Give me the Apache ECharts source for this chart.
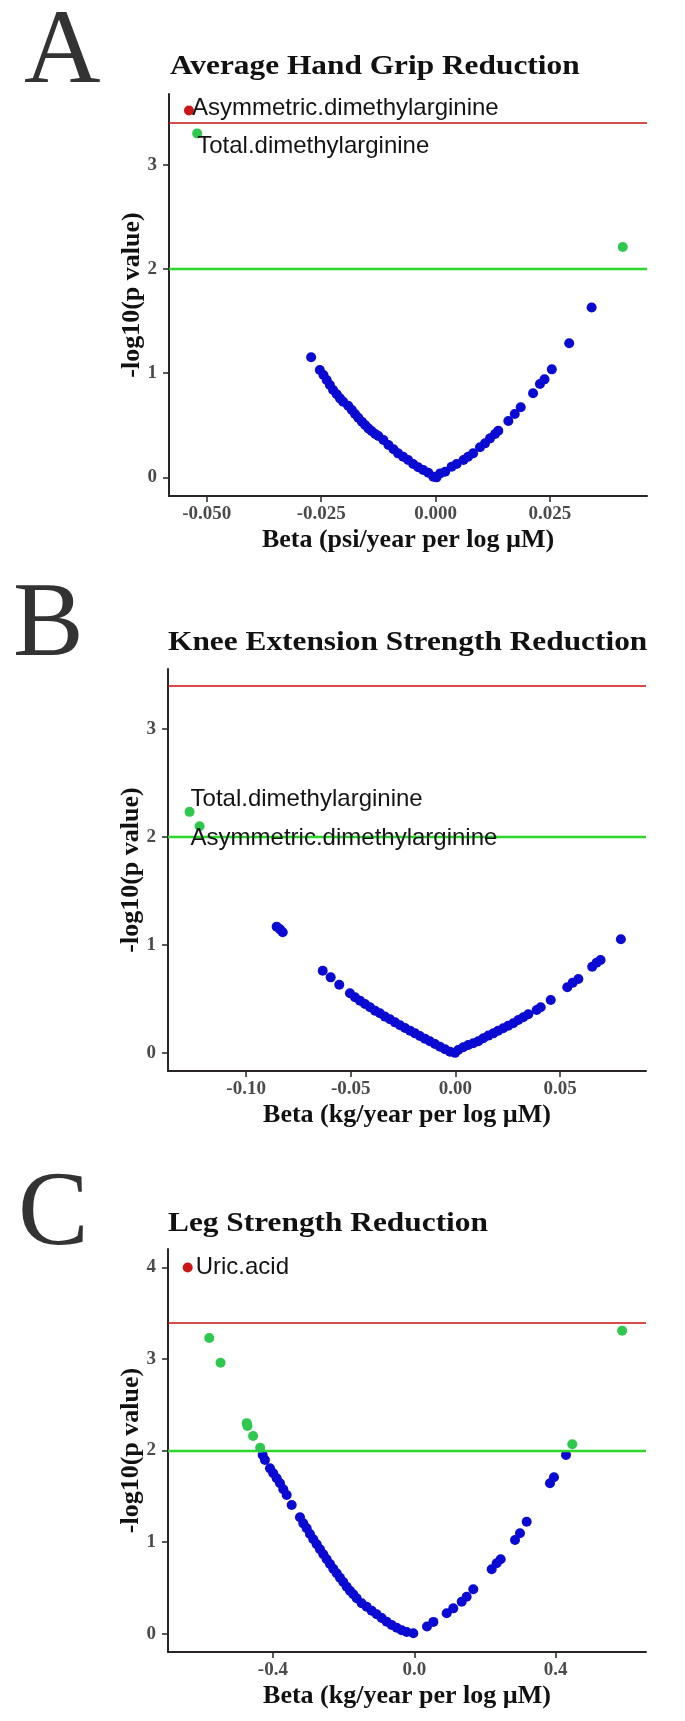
<!DOCTYPE html>
<html><head><meta charset="utf-8">
<script src="https://cdn.jsdelivr.net/npm/echarts@6/dist/echarts.min.js"></script>
<style>html,body{margin:0;padding:0;background:#fff}#c{width:685px;height:1721px}</style>
</head><body><div id="c"></div>
<script>
// ---------- text ----------
const panelLetters = ['A', 'B', 'C'];
const panelTitles = ['Average Hand Grip Reduction', 'Knee Extension Strength Reduction', 'Leg Strength Reduction'];
const xTitles = ['Beta (psi/year per log µM)', 'Beta (kg/year per log µM)', 'Beta (kg/year per log µM)'];
const yTitle = '-log10(p value)';

// ---------- ticks ----------
const xTicksA = [-0.05, -0.025, 0, 0.025];
const xTicksB = [-0.10, -0.05, 0, 0.05];
const xTicksC = [-0.4, 0, 0.4];
const yTicksA = [0, 1, 2, 3];
const yTicksB = [0, 1, 2, 3];
const yTicksC = [0, 1, 2, 3, 4];

// ---------- thresholds (-log10 p) ----------
const thresholdBonferroni = 3.4;
const thresholdNominal = 2;

// ---------- Panel A: Average Hand Grip Reduction ----------
const blueA = [
  [-0.0272,1.152],[-0.0253,1.030],[-0.0245,0.982],[-0.0238,0.934],[-0.0231,0.886],[-0.0224,0.838],
  [-0.0216,0.797],[-0.0209,0.758],[-0.0202,0.726],[-0.0191,0.687],[-0.0183,0.646],[-0.0176,0.607],
  [-0.0169,0.572],[-0.0161,0.534],[-0.0154,0.502],[-0.0147,0.470],[-0.0140,0.444],[-0.0132,0.416],
  [-0.0125,0.396],[-0.0114,0.358],[-0.0103,0.310],[-0.0092,0.269],[-0.0082,0.230],[-0.0071,0.198],
  [-0.0060,0.166],[-0.0049,0.128],[-0.0038,0.096],[-0.0027,0.070],[-0.0016,0.044],[-0.0005,0.006],
  [0.0002,0.000],[0.0010,0.038],[0.0021,0.054],[0.0035,0.102],[0.0046,0.128],[0.0061,0.166],
  [0.0071,0.198],[0.0082,0.230],[0.0097,0.288],[0.0108,0.326],[0.0119,0.374],[0.0130,0.416],
  [0.0137,0.447],[0.0159,0.540],[0.0173,0.607],[0.0186,0.672],[0.0213,0.806],[0.0228,0.895],
  [0.0238,0.940],[0.0254,1.036],[0.0292,1.286],[0.0341,1.630]
];
const greenA = [[-0.0521,3.30],[0.0409,2.21]];
const greenNamesA = ['Total.dimethylarginine', ''];
const redA = [[-0.0539,3.52]];
const redNamesA = ['Asymmetric.dimethylarginine'];

// ---------- Panel B: Knee Extension Strength Reduction ----------
const blueB = [
  [-0.0854,1.170],[-0.0838,1.145],[-0.0825,1.118],
  [-0.0634,0.762],[-0.0596,0.700],[-0.0555,0.632],[-0.0504,0.552],[-0.0480,0.515],[-0.0456,0.484],
  [-0.0432,0.453],[-0.0408,0.423],[-0.0384,0.391],[-0.0361,0.367],[-0.0337,0.336],[-0.0313,0.311],
  [-0.0289,0.283],[-0.0265,0.256],[-0.0241,0.231],[-0.0217,0.206],[-0.0193,0.181],[-0.0170,0.157],
  [-0.0146,0.132],[-0.0122,0.107],[-0.0098,0.082],[-0.0074,0.057],[-0.0050,0.033],[-0.0026,0.011],
  [-0.0002,0.000],[0.0013,0.027],[0.0037,0.052],[0.0061,0.073],[0.0085,0.089],[0.0109,0.107],
  [0.0133,0.135],[0.0157,0.160],[0.0181,0.181],[0.0204,0.206],[0.0228,0.228],[0.0252,0.252],
  [0.0276,0.274],[0.0300,0.305],[0.0324,0.330],[0.0348,0.358],[0.0388,0.398],[0.0407,0.423],
  [0.0455,0.490],[0.0534,0.608],[0.0560,0.651],[0.0587,0.685],[0.0653,0.799],[0.0674,0.836],
  [0.0693,0.861],[0.0790,1.053]
];
const greenB = [[-0.1270,2.234],[-0.1222,2.100]];
const greenNamesB = ['Total.dimethylarginine', 'Asymmetric.dimethylarginine'];
const redB = [];
const redNamesB = [];

// ---------- Panel C: Leg Strength Reduction ----------
const blueC = [
  [-0.4289,1.952],[-0.4224,1.897],[-0.4082,1.806],[-0.3989,1.752],[-0.3893,1.697],[-0.3799,1.643],
  [-0.3706,1.577],[-0.3610,1.515],[-0.3468,1.405],[-0.3234,1.271],[-0.3140,1.205],[-0.3044,1.151],
  [-0.2951,1.089],[-0.2857,1.031],[-0.2761,0.976],[-0.2668,0.921],[-0.2574,0.867],[-0.2478,0.812],
  [-0.2385,0.761],[-0.2292,0.709],[-0.2195,0.659],[-0.2102,0.611],[-0.2009,0.564],[-0.1912,0.513],
  [-0.1819,0.469],[-0.1726,0.430],[-0.1629,0.386],[-0.1488,0.331],[-0.1347,0.294],[-0.1205,0.250],
  [-0.1064,0.211],[-0.0922,0.170],[-0.0781,0.130],[-0.0639,0.094],[-0.0498,0.064],[-0.0356,0.036],
  [-0.0215,0.017],[-0.0028,0.003],
  [0.0360,0.078],[0.0540,0.128],[0.0917,0.222],[0.1103,0.276],[0.1341,0.349],[0.1482,0.403],
  [0.1669,0.484],[0.2190,0.703],[0.2331,0.768],[0.2444,0.812],[0.2849,1.023],[0.2990,1.096],
  [0.3180,1.223],[0.3839,1.643],[0.3952,1.708],[0.4292,1.952]
];
const greenC = [[-0.580,3.23],[-0.548,2.96],[-0.474,2.30],[-0.472,2.27],[-0.456,2.16],[-0.436,2.03],[0.447,2.07],[0.588,3.31]];
const greenNamesC = ['', '', '', '', '', '', '', ''];
const redC = [[-0.641,4.00]];
const redNamesC = ['Uric.acid'];

// ---------- styling / layout (not data) ----------
const SERIF = '"Liberation Serif", "Times New Roman", serif';
const SANS = '"Liberation Sans", Arial, sans-serif';
const BLUE = '#0a0ad2', GREEN = '#2fc84e', RED = '#cc1515';
const AXIS_COL = '#2b2424';

const grids = [
  {left: 169, top: 94, width: 478, height: 402},
  {left: 168, top: 669, width: 478, height: 402},
  {left: 168, top: 1249, width: 478, height: 403}
];
const xExt = [[-0.05826, 0.04620], [-0.1373, 0.0910], [-0.6967, 0.6555]];
const yExt = [[-0.179, 3.678], [-0.168, 3.558], [-0.201, 4.203]];
const xTickSets = [xTicksA, xTicksB, xTicksC];
const yTickSets = [yTicksA, yTicksB, yTicksC];
const xDec = [3, 2, 1];
const titleBase = [75, 651, 1232];
const titleLeft = [170, 168, 168];
const letterBase = [85, 658, 1247];
const letterLeft = [24, 13, 18];
const TITLE_PX = 27.5, TITLE_SX = 1.14, LETTER_PX = 106;
// label offsets for labelled points (style)
const labelOffsets = {
  redA: [[-2, -2]],
  greenA: [[-5, 13], null],
  greenB: [[-4, -12], [-14, 12]],
  redC: [[3, 0]],
  greenC: []
};

function items(arr, names, offs) {
  return arr.map((p, i) => {
    const it = {value: p};
    if (names && names[i]) {
      it.name = names[i];
      it.label = {
        show: true, position: 'right', distance: 0, offset: (offs && offs[i]) || [0, 0],
        formatter: '{b}', fontFamily: SANS, fontSize: 24, color: '#141414'
      };
    }
    return it;
  });
}

const xAxes = [], yAxes = [], series = [], graphics = [];
for (let i = 0; i < 3; i++) {
  xAxes.push({
    type: 'value', gridIndex: i, min: xExt[i][0], max: xExt[i][1],
    name: xTitles[i], nameLocation: 'middle', nameGap: 31, nameMoveOverlap: false,
    nameTextStyle: {fontFamily: SERIF, fontWeight: 'bold', fontSize: 26, color: '#111'},
    axisLine: {onZero: false, lineStyle: {color: AXIS_COL, width: 2}},
    axisTick: {show: true, length: 6, customValues: xTickSets[i], lineStyle: {color: AXIS_COL, width: 1.5}},
    axisLabel: {customValues: xTickSets[i], formatter: (v) => Number(v).toFixed(xDec[i]), margin: 9,
      fontFamily: SERIF, fontWeight: 'bold', fontSize: 19, color: '#4a4a4a'},
    splitLine: {show: false}
  });
  yAxes.push({
    type: 'value', gridIndex: i, min: yExt[i][0], max: yExt[i][1],
    name: yTitle, nameLocation: 'middle', nameGap: 24, nameMoveOverlap: false,
    nameTextStyle: {fontFamily: SERIF, fontWeight: 'bold', fontSize: 26, color: '#111'},
    axisLine: {onZero: false, lineStyle: {color: AXIS_COL, width: 2}},
    axisTick: {show: true, length: 6, customValues: yTickSets[i], lineStyle: {color: AXIS_COL, width: 1.5}},
    axisLabel: {customValues: yTickSets[i], formatter: (v) => String(Math.round(v)), margin: 12,
      fontFamily: SERIF, fontWeight: 'bold', fontSize: 19, color: '#4a4a4a'},
    splitLine: {show: false}
  });
  graphics.push({
    type: 'text', x: letterLeft[i], y: letterBase[i] - 0.29 * LETTER_PX,
    style: {text: panelLetters[i], font: LETTER_PX + 'px ' + SERIF, fill: '#333', verticalAlign: 'middle'}
  });
  graphics.push({
    type: 'text', x: titleLeft[i], y: titleBase[i] - 0.29 * TITLE_PX, scaleX: TITLE_SX,
    style: {text: panelTitles[i], font: 'bold ' + TITLE_PX + 'px ' + SERIF, fill: '#111', verticalAlign: 'middle'}
  });
}

const blues = [blueA, blueB, blueC];
const greens = [greenA, greenB, greenC];
const greenNames = [greenNamesA, greenNamesB, greenNamesC];
const greenOffs = [labelOffsets.greenA, labelOffsets.greenB, labelOffsets.greenC];
const reds = [redA, redB, redC];
const redNames = [redNamesA, redNamesB, redNamesC];
const redOffs = [labelOffsets.redA, [], labelOffsets.redC];

for (let i = 0; i < 3; i++) {
  series.push({
    type: 'scatter', xAxisIndex: i, yAxisIndex: i, symbolSize: 10,
    itemStyle: {color: BLUE, opacity: 1}, data: blues[i], z: 2,
    markLine: {
      silent: true, symbol: 'none', animation: false, label: {show: false}, z: 3,
      data: [
        {yAxis: thresholdBonferroni, lineStyle: {color: '#cc1010', width: 1.6, type: 'solid'}},
        {yAxis: thresholdNominal, lineStyle: {color: '#2ed62e', width: 2.4, type: 'solid'}}
      ]
    }
  });
  series.push({
    type: 'scatter', xAxisIndex: i, yAxisIndex: i, symbolSize: 10,
    itemStyle: {color: GREEN, opacity: 1}, z: 4,
    data: items(greens[i], greenNames[i], greenOffs[i])
  });
  series.push({
    type: 'scatter', xAxisIndex: i, yAxisIndex: i, symbolSize: 10,
    itemStyle: {color: RED, opacity: 1}, z: 4,
    data: items(reds[i], redNames[i], redOffs[i])
  });
}

const chart = echarts.init(document.getElementById('c'), null, {renderer: 'canvas'});
chart.setOption({
  animation: false,
  backgroundColor: '#ffffff',
  grid: grids,
  xAxis: xAxes,
  yAxis: yAxes,
  series: series,
  graphic: graphics
});
</script>
</body></html>
